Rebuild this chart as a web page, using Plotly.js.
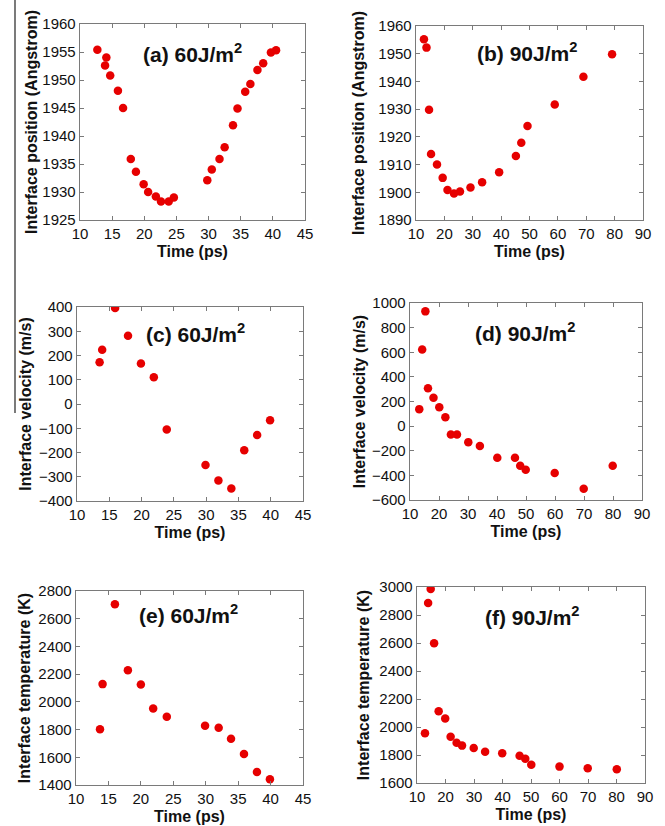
<!DOCTYPE html>
<html>
<head>
<meta charset="utf-8">
<script src="https://cdn.plot.ly/plotly-3.0.1.min.js"></script>
<style>html,body{margin:0;padding:0;background:#fff}#chart{width:665px;height:826px}</style>
</head>
<body>
<div id="chart"></div>
<script>
// (a) interface position, 60 J/m2
const timeA = [12.7, 14.1, 13.9, 14.7, 15.9, 16.7, 17.9, 18.7, 19.9, 20.6, 21.8, 22.6, 23.8, 24.6, 29.8, 30.5, 31.7, 32.5, 33.8, 34.5, 35.7, 36.5, 37.6, 38.5, 39.7, 40.5];
const posA  = [1955.4, 1954.0, 1952.6, 1950.8, 1948.1, 1945.0, 1935.9, 1933.6, 1931.4, 1930.0, 1929.2, 1928.3, 1928.3, 1929.0, 1932.1, 1934.0, 1935.9, 1938.0, 1941.9, 1944.9, 1947.9, 1949.3, 1951.8, 1953.0, 1954.9, 1955.3];
// (b) interface position, 90 J/m2
const timeB = [12.8, 13.7, 14.6, 15.3, 17.4, 19.4, 21.1, 23.4, 25.5, 29.2, 33.3, 39.3, 45.2, 47.1, 49.3, 58.9, 69.0, 79.1];
const posB  = [1955.2, 1952.2, 1929.8, 1913.8, 1910.0, 1905.2, 1900.8, 1899.6, 1900.3, 1901.7, 1903.6, 1907.2, 1913.1, 1917.9, 1923.9, 1931.7, 1941.7, 1949.8];
// (c) interface velocity, 60 J/m2
const timeC = [13.5, 13.9, 15.9, 17.9, 19.9, 21.9, 23.9, 29.9, 31.9, 33.9, 35.9, 37.9, 39.9];
const velC  = [172, 224, 396, 281, 167, 110, -105, -252, -315, -348, -191, -128, -67];
// (d) interface velocity, 90 J/m2
const timeD = [13.2, 14.2, 15.3, 16.2, 18.1, 20.1, 22.2, 24.1, 26.2, 30.1, 34.1, 40.1, 46.2, 48.0, 49.9, 59.9, 69.9, 79.9];
const velD  = [138, 622, 932, 308, 230, 154, 73, -68, -68, -130, -162, -257, -257, -322, -354, -381, -508, -322];
// (e) interface temperature, 60 J/m2
const timeE = [13.7, 14.1, 16.0, 18.0, 20.0, 21.9, 24.0, 29.9, 32.0, 33.9, 35.9, 37.9, 39.9];
const tempE = [1803, 2128, 2704, 2228, 2125, 1952, 1892, 1827, 1813, 1734, 1623, 1494, 1441];
// (f) interface temperature, 90 J/m2
const timeF = [12.8, 13.9, 14.8, 16.0, 17.6, 19.9, 21.8, 23.9, 25.8, 29.9, 33.9, 39.9, 46.0, 48.0, 50.1, 60.0, 69.9, 80.1];
const tempF = [1955, 2886, 2986, 2598, 2112, 2060, 1931, 1888, 1867, 1850, 1824, 1812, 1795, 1774, 1731, 1717, 1705, 1698];

const panelLabels = ['(a) 60J/m<sup>2</sup>', '(b) 90J/m<sup>2</sup>', '(c) 60J/m<sup>2</sup>', '(d) 90J/m<sup>2</sup>', '(e) 60J/m<sup>2</sup>', '(f) 90J/m<sup>2</sup>'];
const yTitles = ['Interface position (Angstrom)', 'Interface position (Angstrom)', 'Interface velocity (m/s)', 'Interface velocity (m/s)', 'Interface temperature (K)', 'Interface temperature (K)'];
const xTitle = 'Time (ps)';

const W = 665, H = 826;
const px = v => v / W;
const py = v => 1 - v / H;

// pixel boxes [left, right, top, bottom]
const boxes = [
  [80, 305, 24, 220],
  [416, 643, 26, 220],
  [77, 303, 307, 501],
  [410, 642, 303, 500],
  [76, 303, 591, 785],
  [417, 645, 587, 783]
];
const xRanges = [[10, 45], [10, 90], [10, 45], [10, 90], [10, 45], [10, 90]];
const xDtick = [5, 10, 5, 10, 5, 10];
const yRanges = [[1925, 1960], [1890, 1960], [-400, 400], [-600, 1000], [1400, 2800], [1600, 3000]];
const yDtick = [5, 10, 100, 200, 200, 200];
const labelPos = [[192, 53], [527, 52], [195, 333], [525, 332], [188, 614], [532, 616]];
const yStandoff = [0, 9, 3, 2, 3, 5];

const xs = [timeA, timeB, timeC, timeD, timeE, timeF];
const ys = [posA, posB, velC, velD, tempE, tempF];

const data = [];
const layout = {
  width: W, height: H,
  margin: {l: 0, r: 0, t: 0, b: 0, autoexpand: false},
  paper_bgcolor: '#fff', plot_bgcolor: '#fff',
  showlegend: false,
  font: {family: 'Liberation Sans, Arial, sans-serif', color: '#111'},
  annotations: [],
  shapes: [{type: 'line', xref: 'paper', yref: 'paper', x0: px(15), x1: px(15), y0: 1, y1: py(413), line: {color: '#222', width: 1.2}}]
};

const axisCommon = {
  showgrid: false, zeroline: false, showline: true, mirror: 'ticks',
  linecolor: '#7a7a7a', linewidth: 1.3,
  ticks: 'inside', ticklen: 4, tickwidth: 1, tickcolor: '#7a7a7a',
  tickfont: {size: 15, color: '#111'}, fixedrange: true
};

for (let i = 0; i < 6; i++) {
  const n = i === 0 ? '' : String(i + 1);
  const b = boxes[i];
  data.push({
    type: 'scatter', mode: 'markers', x: xs[i], y: ys[i],
    xaxis: 'x' + n, yaxis: 'y' + n,
    marker: {color: 'rgb(230,0,0)', size: 8.5}
  });
  layout['xaxis' + n] = Object.assign({}, axisCommon, {
    domain: [px(b[0]), px(b[1])], anchor: 'y' + n,
    range: xRanges[i], tick0: 10, dtick: xDtick[i],
    title: {text: '<b>' + xTitle + '</b>', font: {size: 16, color: '#111'}, standoff: 4}
  });
  layout['yaxis' + n] = Object.assign({}, axisCommon, {
    domain: [py(b[3]), py(b[2])], anchor: 'x' + n,
    range: yRanges[i], tick0: yRanges[i][0], dtick: yDtick[i],
    automargin: true,
    title: {text: '<b>' + yTitles[i] + '</b>', font: {size: 16, color: '#111'}, standoff: yStandoff[i]}
  });
  layout.annotations.push({
    xref: 'paper', yref: 'paper', x: px(labelPos[i][0]), y: py(labelPos[i][1]),
    xanchor: 'center', yanchor: 'middle', showarrow: false,
    text: '<b>' + panelLabels[i] + '</b>', font: {size: 21, color: '#111'}
  });
}

Plotly.newPlot('chart', data, layout, {displayModeBar: false, staticPlot: true});
</script>
</body>
</html>
